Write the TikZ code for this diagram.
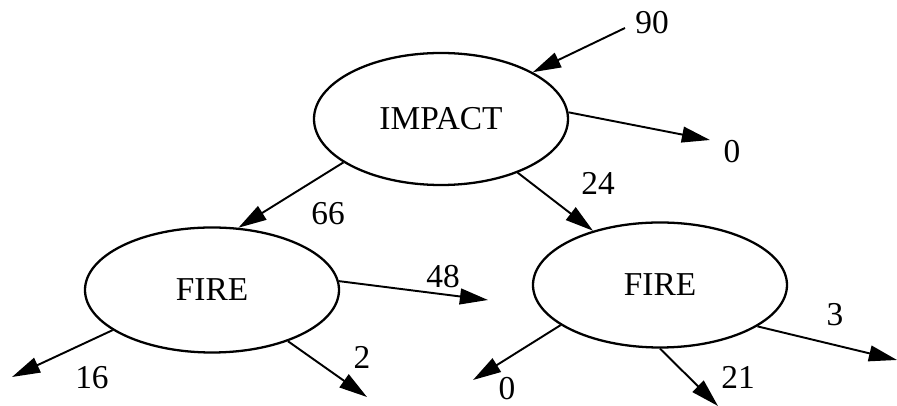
\documentclass[tikz,border=0pt]{standalone}
\usepackage{fontspec}
\setmainfont{Liberation Serif}
\usetikzlibrary{shapes.geometric,arrows.meta}

\begin{document}
\begin{tikzpicture}[
  event/.style={draw,ellipse,line width=1.3pt,inner sep=0pt,minimum width=5.08cm,minimum height=2.5cm,font=\fontsize{19}{22}\selectfont},
  count/.style={inner sep=0pt,font=\fontsize{19}{22}\selectfont},
  flow/.style={line width=1.1pt,-{Triangle[length=16pt,width=9pt]}}]
  \useasboundingbox (0,0) rectangle (17.94,-8.12);
  \node (impact) at (8.82,-2.38) [event,minimum height=2.64cm] {IMPACT};
  \node (fireL) at (4.24,-5.8) [event] {FIRE};
  \node (fireR) at (13.2,-5.7) [event] {FIRE};
  % free ends of the arrows
  \coordinate (in90) at (12.5,-0.56);
  \coordinate (out0) at (14.2,-2.8);
  \coordinate (out16) at (0.24,-7.54);
  \coordinate (out2) at (7.34,-7.94);
  \coordinate (out48) at (9.76,-6.0);
  \coordinate (outR0) at (9.46,-7.6);
  \coordinate (out21) at (14.36,-8.12);
  \coordinate (out3) at (17.94,-7.2);
  \draw[flow] (in90) to (impact.27);
  \draw[flow] (impact.3) to (out0);
  \draw[flow] (impact.204) to (fireL.67);
  \draw[flow] (impact.325) to (fireR.141);
  \draw[flow] (fireL.202) to (out16);
  \draw[flow] (fireL.326) to (out2);
  \draw[flow] (fireL.4) to (out48);
  \draw[flow] (fireR.202) to (outR0);
  \draw[flow] (fireR.270) to (out21);
  \draw[flow] (fireR.337) to (out3);
  % counts
  \node (n90) at (13.04,-0.46) [count] {90};
  \node (n0) at (14.64,-3.04) [count] {0};
  \node (n66) at (6.56,-4.28) [count] {66};
  \node (n24) at (11.96,-3.66) [count] {24};
  \node (n16) at (1.84,-7.56) [count] {16};
  \node (n2) at (7.24,-7.14) [count] {2};
  \node (n48) at (8.86,-5.54) [count] {48};
  \node (nR0) at (10.14,-7.78) [count] {0};
  \node (n21) at (14.76,-7.54) [count] {21};
  \node (n3) at (16.7,-6.3) [count] {3};
\end{tikzpicture}
\end{document}
